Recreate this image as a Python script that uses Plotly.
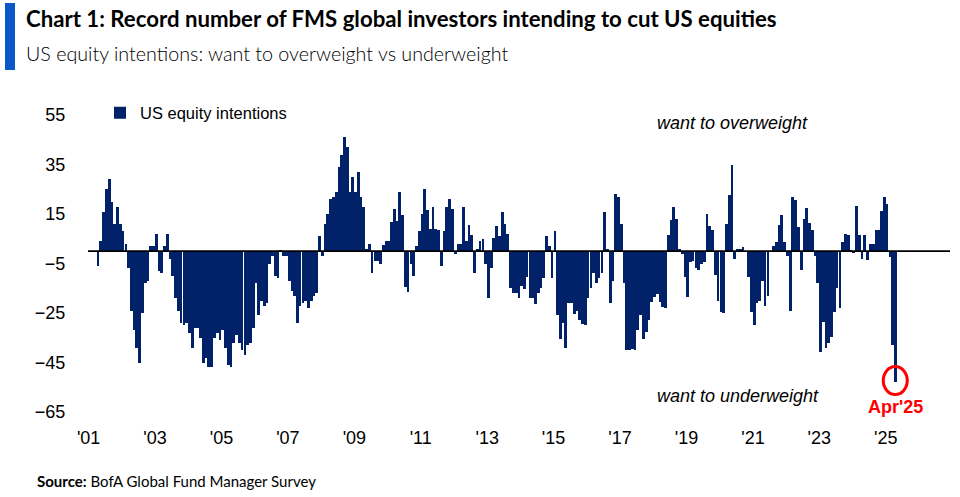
import pandas as pd
import plotly.graph_objects as go

# ---------------- data ----------------
series_name = "US equity intentions"
start_month = "2001-04-01"   # first monthly observation

intentions = [
    # 2001 (Apr-Dec)
    -6, 4, 16, 25, 29, 20, 11, 18, 11,
    # 2002
    8, 3, -7, -24, -32, -39, -45, -25, -13, -12, 2, 2,
    # 2003
    7, -8, -9, 2, 7, -3, -10, -19, -24, -29, -30, -29,
    # 2004
    -33, -39, -31, -31, -35, -45, -43, -47, -47, -35, -33, -36,
    # 2005
    -32, -39, -46, -47, -37, -34, -37, -40, -42, -38, -37, -31,
    # 2006
    -13, -26, -20, -22, -21, -5, -2, -10, -11, 0.5, -2, -2,
    # 2007
    -12, -16, -18, -29, -22, -21, -20, -23, -20, -18, -17, 6,
    # 2008
    -2, 11, 15, 21, 22, 24, 34, 39, 46, 42, 24, 30,
    # 2009
    24, 32, 22, 18, 1, 3, -9, -4, -4, -5, 2.5, 4,
    # 2010
    4, 11.6, 17, 12, 24, 14.5, -14.6, -16.4, -5, -10, 2, 8,
    # 2011
    15, 25, 16.5, 9, 18, 9, 8.5, -6, 8, 18, 21, 17,
    # 2012
    -1, 3, 3, 18, 4, 10.5, 6.5, -9, 1, 4, 5, -5,
    # 2013
    -19, -7, 5.5, 10, 6, 16, 11, 7, -15, -17, -17, -19,
    # 2014
    -14, -15.5, -10.6, -19, -19, -21.5, -17, -15, -11, 6, 2, -11,
    # 2015
    8, -26, -35.5, -29, -39, -21, -21, -25.6, -24, -28, -29.6, -30,
    # 2016
    -19, -15, -9, -13, -11, -9, 16, 1, -21, -12, 23, 22,
    # 2017
    11, -13, -40, -40, -39.5, -40, -32, -26, -35.4, -32.6, -28, -20.6,
    # 2018
    -18.6, -17.3, -20.6, -22.6, -23, 6.4, 12.4, 17.8, 13, 1, -1, -10.6,
    # 2019
    -18.6, -4.5, -3.8, -7, -7.8, -5, -4.5, 15, 10, 8.5, -9.8, -20,
    # 2020
    -24.6, -25, 11, 22.5, 35, -3, 1, 1, 1.5, 0, -10.6, -24.6,
    # 2021
    -30, -21, -20, -12, -22, -18, 0, 2, 3.5, 10.5, 14.5, 3.5,
    # 2022
    -2, -24, 22, 20.6, 9.8, -7.6, 13, 17.6, 11.5, 8.5, -2, -13,
    # 2023
    -40.6, -28.6, -39, -37, -34.6, -24.5, -15, -23, 3.5, 7, 6.5, 0.5,
    # 2024
    -0.5, 18.4, 6.5, -3, 6.5, -3.6, 3, 3, 8.5, 8.5, 16.4, 22,
    # 2025 (Jan-Apr)
    19, -2.5, -38, -52.7,
]

y_tick_values = [55, 35, 15, -5, -25, -45, -65]
x_tick_years = [2001, 2003, 2005, 2007, 2009, 2011, 2013, 2015, 2017, 2019, 2021, 2023, 2025]
x_tick_labels = ["'01", "'03", "'05", "'07", "'09", "'11", "'13", "'15", "'17", "'19", "'21", "'23", "'25"]
last_label = "Apr'25"

title_text = "Chart 1: Record number of FMS global investors intending to cut US equities"
subtitle_text = "US equity intentions: want to overweight vs underweight"
source_bold = "Source:"
source_text = "BofA Global Fund Manager Survey"
note_over = "want to overweight"
note_under = "want to underweight"

# ---------------- styling ----------------
NAVY = "#012169"
ACCENT = "#0B57C9"
RED = "#FF0000"
ARIAL = "Liberation Sans, Arial, sans-serif"
HUMAN = "Lato, Open Sans, sans-serif"

W, H = 960, 497
L, R, T, B = 88, 10, 115, 85
PW, PH = W - L - R, H - T - B


def px_x(px):
    return (px - L) / PW


def px_y(py):
    return (H - B - py) / PH


dates = pd.date_range(start=start_month, periods=len(intentions), freq="MS") + pd.Timedelta(days=14)
tick_dates = pd.to_datetime([f"{y}-01-01" for y in x_tick_years])
bar_width_ms = 30 * 24 * 3600 * 1000

fig = go.Figure()
fig.add_trace(go.Bar(
    x=dates, y=intentions, name=series_name,
    marker=dict(color=NAVY, line=dict(width=0)),
    width=bar_width_ms, showlegend=True,
))

fig.update_layout(
    width=W, height=H,
    margin=dict(l=L, r=R, t=T, b=B, pad=0, autoexpand=False),
    paper_bgcolor="white", plot_bgcolor="white",
    bargap=0,
    font=dict(family=ARIAL, size=18, color="black"),
    showlegend=True,
    legend=dict(
        x=px_x(100), y=px_y(113), xanchor="left", yanchor="middle",
        bgcolor="rgba(0,0,0,0)", borderwidth=0,
        font=dict(family=ARIAL, size=16.5, color="black"),
        itemwidth=30, tracegroupgap=0,
    ),
    xaxis=dict(
        type="date",
        range=[pd.Timestamp("2000-12-25"), pd.Timestamp("2026-12-08")],
        tickvals=tick_dates, ticktext=x_tick_labels,
        ticks="outside", ticklen=9, tickcolor="rgba(0,0,0,0)",
        showgrid=False, zeroline=False, showline=False,
        tickfont=dict(family=ARIAL, size=18, color="black"),
    ),
    yaxis=dict(
        range=[-65, 55],
        tickvals=y_tick_values,
        ticks="outside", ticklen=18, tickcolor="rgba(0,0,0,0)",
        showgrid=False, zeroline=False, showline=False,
        tickfont=dict(family=ARIAL, size=18, color="black"),
    ),
)

# zero reference line drawn on top of bars
fig.add_shape(type="line", xref="paper", yref="y", x0=0, x1=1, y0=0, y1=0,
              line=dict(color="black", width=1.6), layer="above")

# red ring around the latest reading
fig.add_shape(type="circle", xref="x", yref="y",
              xsizemode="pixel", ysizemode="pixel",
              xanchor=dates[-1], yanchor=intentions[-1],
              x0=-12, x1=12, y0=-13, y1=15,
              line=dict(color=RED, width=3), layer="above")
fig.add_annotation(x=dates[-1], y=intentions[-1], xref="x", yref="y",
                   text=f"<b>{last_label}</b>", showarrow=False,
                   yshift=-25, xshift=0,
                   font=dict(family=ARIAL, size=18, color=RED))

# title block
fig.add_shape(type="rect", xref="paper", yref="paper",
              x0=px_x(5), x1=px_x(15), y0=px_y(70), y1=px_y(3),
              fillcolor=ACCENT, line=dict(width=0))
fig.add_annotation(xref="paper", yref="paper", x=px_x(24), y=px_y(19),
                   xanchor="left", yanchor="middle", showarrow=False,
                   text=f"<b>{title_text}</b>",
                   font=dict(family=HUMAN, size=22.2, color="black"))
fig.add_annotation(xref="paper", yref="paper", x=px_x(24), y=px_y(53),
                   xanchor="left", yanchor="middle", showarrow=False,
                   text=subtitle_text,
                   font=dict(family=HUMAN, size=19.7, color="black", weight=300))

# in-chart notes
fig.add_annotation(xref="paper", yref="paper", x=px_x(655), y=px_y(123),
                   xanchor="left", yanchor="middle", showarrow=False,
                   text=f"<i>{note_over}</i>",
                   font=dict(family=ARIAL, size=18, color="black"))
fig.add_annotation(xref="paper", yref="paper", x=px_x(655), y=px_y(396),
                   xanchor="left", yanchor="middle", showarrow=False,
                   text=f"<i>{note_under}</i>",
                   font=dict(family=ARIAL, size=18, color="black"))

# source
fig.add_annotation(xref="paper", yref="paper", x=px_x(35), y=px_y(481),
                   xanchor="left", yanchor="middle", showarrow=False,
                   text=f"<b>{source_bold}</b> {source_text}",
                   font=dict(family=HUMAN, size=15, color="black"))

fig.write_html("out.html", config={"displayModeBar": False},
               post_script="document.body.style.margin='0px';")
